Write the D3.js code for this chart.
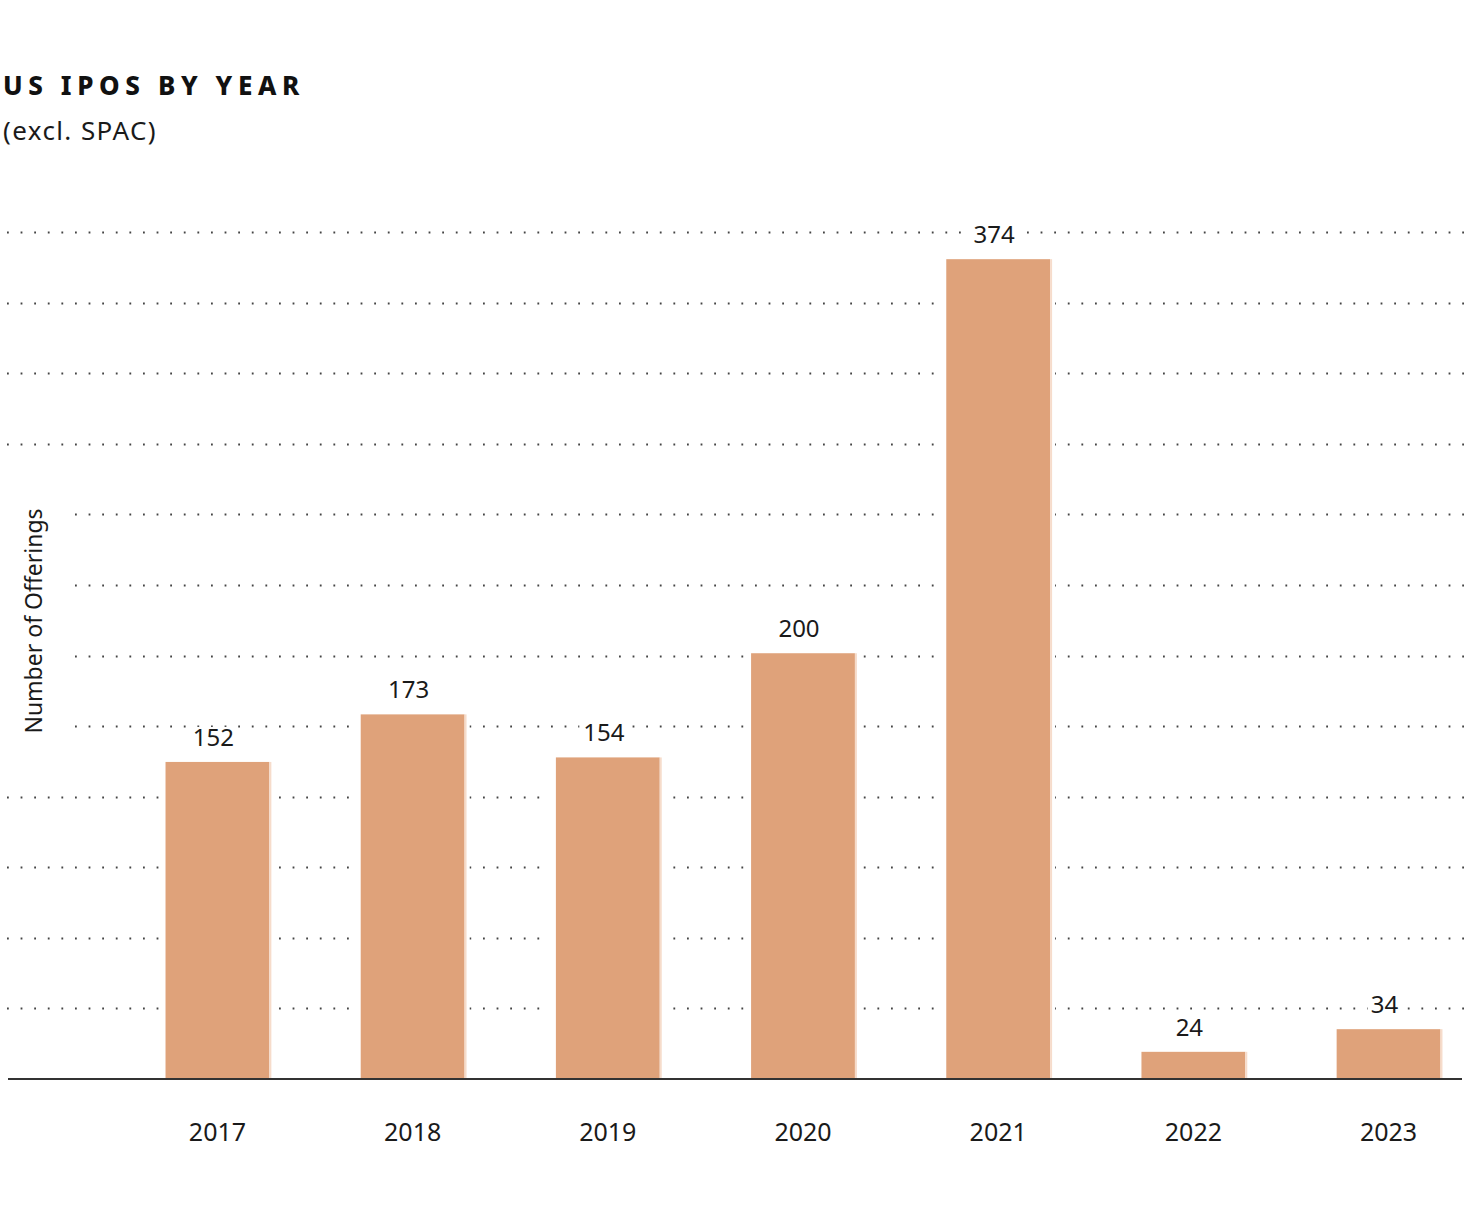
<!DOCTYPE html>
<html>
<head>
<meta charset="utf-8">
<script src="https://cdn.jsdelivr.net/npm/d3@7"></script>
<style>
  body { margin: 0; background: #fff; }
  svg { display: block; font-family: "Noto Sans", "Open Sans", sans-serif; }
</style>
</head>
<body>
<div id="chart"></div>
<script>
var years = ["2017", "2018", "2019", "2020", "2021", "2022", "2023"];
var offerings = [152, 173, 154, 200, 374, 24, 34];
var title = "US IPOS BY YEAR";
var subtitle = "(excl. SPAC)";
var yLabel = "Number of Offerings";
var gridCount = 12;

var width = 1476, height = 1208;
var baseY = 1079, topY = 232;

var svg = d3.select("#chart").append("svg")
    .attr("width", width)
    .attr("height", height);

var x = d3.scaleBand()
    .domain(years)
    .range([146, 1460])
    .paddingInner(0.468)
    .paddingOuter(0.1);

var y = d3.scaleLinear()
    .domain([12, 386])
    .range([baseY, topY]);

// dotted gridlines, evenly spaced over the domain
var gridVals = d3.range(1, gridCount + 1).map(function(i) {
    return y.domain()[0] + i * (y.domain()[1] - y.domain()[0]) / gridCount;
});
svg.append("g").selectAll("line")
    .data(gridVals)
    .enter().append("line")
    .attr("x1", 7).attr("x2", 1466)
    .attr("y1", function(d) { return Math.round(y(d)) + 0.5; })
    .attr("y2", function(d) { return Math.round(y(d)) + 0.5; })
    .attr("stroke", "#444")
    .attr("stroke-width", 1.8)
    .attr("stroke-dasharray", "1.8 11.8");

// white masks around the bars so the dots stop short of them
svg.append("g").selectAll("rect")
    .data(offerings)
    .enter().append("rect")
    .attr("x", function(d, i) { return x(years[i]) - 5; })
    .attr("width", x.bandwidth() + 10)
    .attr("y", function(d) { return y(d) - 5; })
    .attr("height", function(d) { return baseY - y(d) + 5; })
    .attr("fill", "#fff");

var bars = svg.append("g");
bars.selectAll("rect.bar")
    .data(offerings)
    .enter().append("rect")
    .attr("class", "bar")
    .attr("x", function(d, i) { return x(years[i]); })
    .attr("width", x.bandwidth())
    .attr("y", function(d) { return y(d); })
    .attr("height", function(d) { return baseY - y(d); })
    .attr("fill", "#dfa27a");
bars.selectAll("rect.edge")
    .data(offerings)
    .enter().append("rect")
    .attr("class", "edge")
    .attr("x", function(d, i) { return x(years[i]) + x.bandwidth(); })
    .attr("width", 2)
    .attr("y", function(d) { return y(d); })
    .attr("height", function(d) { return baseY - y(d); })
    .attr("fill", "#f6dccb");

// value labels with white backing
var labels = svg.append("g").selectAll("g")
    .data(offerings)
    .enter().append("g")
    .attr("transform", function(d, i) {
        return "translate(" + (x(years[i]) + x.bandwidth() / 2 - 4) + "," + (y(d) - 16) + ")";
    });
labels.append("rect")
    .attr("x", function(d) { return -String(d).length * 7.5 - 2; })
    .attr("y", -19)
    .attr("width", function(d) { return String(d).length * 15 + 4; })
    .attr("height", 22)
    .attr("fill", "#fff");
labels.append("text")
    .attr("text-anchor", "middle")
    .attr("font-size", 24)
    .attr("fill", "#1a1a1a")
    .text(function(d) { return d; });

// baseline
svg.append("line")
    .attr("x1", 8).attr("x2", 1462)
    .attr("y1", baseY).attr("y2", baseY)
    .attr("stroke", "#333")
    .attr("stroke-width", 2);

// x axis labels
var xAxis = d3.axisBottom(x).tickSize(0).tickPadding(44);
var gx = svg.append("g")
    .attr("transform", "translate(0," + baseY + ")")
    .call(xAxis);
gx.select(".domain").remove();
gx.selectAll("text")
    .attr("font-size", 25)
    .attr("font-family", "'Noto Sans', sans-serif")
    .attr("fill", "#1a1a1a");

// y label with white backing
svg.append("rect")
    .attr("x", 0).attr("y", 500)
    .attr("width", 68).attr("height", 240)
    .attr("fill", "#fff");
svg.append("text")
    .attr("transform", "translate(42,621) rotate(-90)")
    .attr("text-anchor", "middle")
    .attr("font-size", 23)
    .attr("fill", "#1a1a1a")
    .text(yLabel);

// titles
svg.append("text")
    .attr("x", 3).attr("y", 95)
    .attr("font-size", 26)
    .attr("font-weight", 800)
    .attr("letter-spacing", 5.6)
    .attr("fill", "#111")
    .text(title);
svg.append("text")
    .attr("x", 3).attr("y", 140)
    .attr("font-size", 26)
    .attr("letter-spacing", 1.4)
    .attr("fill", "#1a1a1a")
    .text(subtitle);
</script>
</body>
</html>
